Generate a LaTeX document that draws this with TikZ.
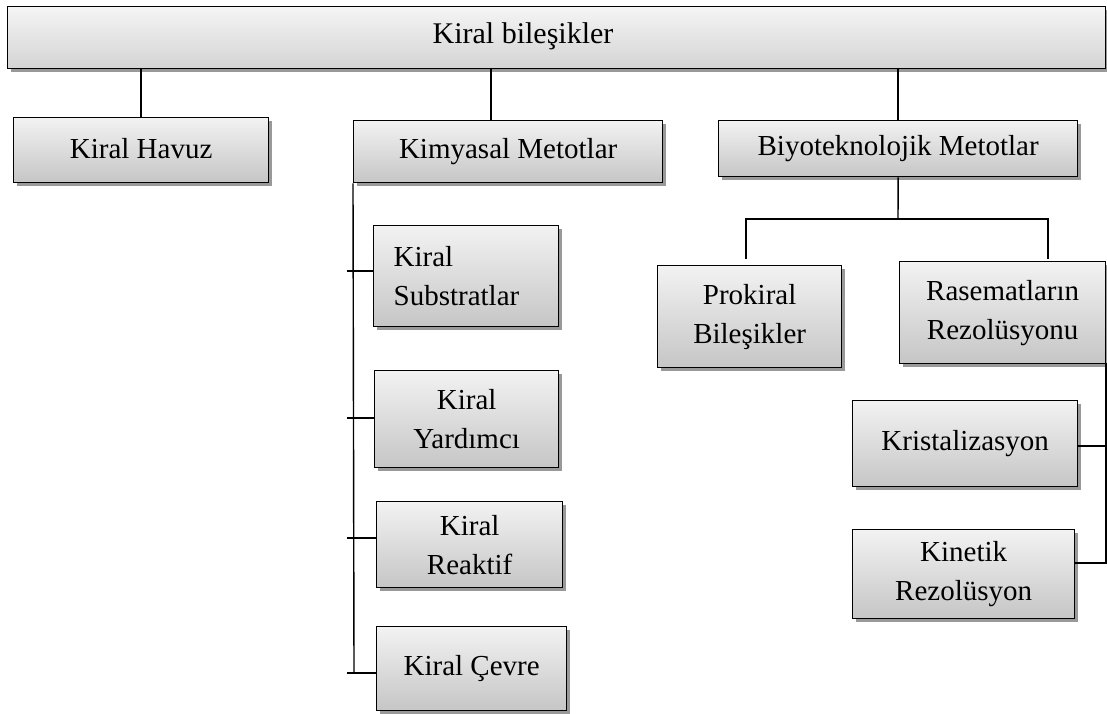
\documentclass[tikz,border=0pt]{standalone}
\usepackage{fontspec}
\setmainfont{Liberation Serif}
\usetikzlibrary{shadows,calc}
\tikzset{
  box/.style={draw=black, line width=1.3pt, rectangle, anchor=north west,
    top color=gray!10, bottom color=gray!45, inner sep=0pt, align=center,
    font=\fontsize{29}{39}\selectfont,
    drop shadow={shadow xshift=3pt, shadow yshift=-3pt, fill=black!40, opacity=1}},
  conn/.style={draw=black, line width=1.4pt},
}
% box geometry: \bx{name}{left}{top}{right}{bottom}{options}{text}
\newcommand{\bx}[7]{\node[box, minimum width={#4-#2}, minimum height={#5-#3}, #6] (#1) at (#2,#3) {#7};}
\begin{document}
\begin{tikzpicture}[x=1pt, y=-1pt]
\useasboundingbox (0,0) rectangle (1107,713);

% top level
\bx{top}{7}{6}{1105}{68}{top color=gray!8, bottom color=gray!34}{}
\node[font=\fontsize{30}{38}\selectfont] (title) at (523,36) {Kiral bileşikler};

\bx{hav}{13}{117}{268}{182}{}{\raisebox{3pt}{Kiral Havuz}}
\bx{kim}{353}{120}{662}{182}{}{Kimyasal Metotlar}
\bx{biyo}{718}{120}{1077}{176}{}{\raisebox{3pt}{Biyoteknolojik Metotlar}}

% chemical methods
\bx{sub}{373}{225}{558}{326}{align=left, text width=145pt, inner xsep=20pt}{Kiral\\Substratlar}
\bx{yar}{374}{370}{558}{467}{}{Kiral\\Yardımcı}
\bx{rea}{376}{501}{562}{587}{}{Kiral\\Reaktif}
\bx{cev}{376}{626}{566}{710}{}{\raisebox{7pt}{Kiral Çevre}}

% biotechnological methods
\bx{pro}{657}{265}{841}{367}{}{Prokiral\\Bileşikler}
\bx{ras}{899}{261}{1105}{363}{}{Rasematların\\Rezolüsyonu}
\bx{kri}{852}{400}{1077}{486}{}{\raisebox{4pt}{Kristalizasyon}}
\bx{kin}{852}{529}{1074}{618}{}{Kinetik\\Rezolüsyon}

% connectors from the top box
\coordinate (kimtop) at (491,120);
\draw[conn] (hav.north) -- (hav.north |- top.south);
\draw[conn] (kimtop) -- (kimtop |- top.south);
\draw[conn] (biyo.north) -- (biyo.north |- top.south);

% spine of the chemical methods
\coordinate (spineL) at (347,0);
\coordinate (spineEnd) at (354,673);
\draw[conn] (kim.south west) -- (spineEnd);
\coordinate (tsub) at (373,271);
\coordinate (tyar) at (374,418);
\coordinate (trea) at (376,538);
\coordinate (tcev) at (376,673);
\draw[conn] (tsub) -- (tsub -| spineL);
\draw[conn] (tyar) -- (tyar -| spineL);
\draw[conn] (trea) -- (trea -| spineL);
\draw[conn] (tcev) -- (tcev -| spineL);

% fork under the biotechnological methods
\coordinate (fork) at (898,219);
\coordinate (forkL) at (746,259);
\coordinate (forkR) at (1048,259);
\draw[conn] (biyo.south) -- (fork);
\draw[conn] (forkL) -- (forkL |- fork) -- (forkR |- fork) -- (forkR);

% right-hand spine under the racemate resolution
\coordinate (rspine) at (1106,363);
\coordinate (rkri) at (1077,446);
\coordinate (rkin) at (1074,563);
\draw[conn] (rspine) -- (rspine |- rkin) -- (rkin);
\draw[conn] (rkri) -- (rkri -| rspine);
\end{tikzpicture}
\end{document}
